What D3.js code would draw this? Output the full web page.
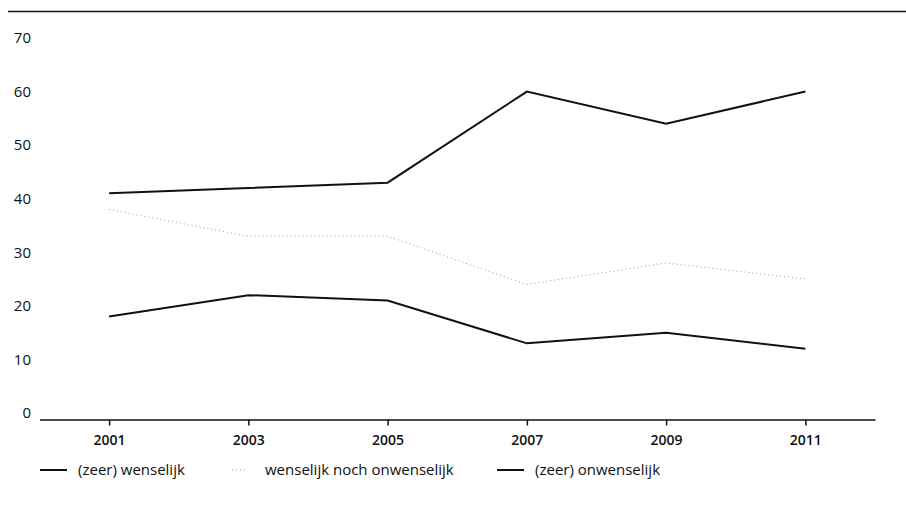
<!DOCTYPE html>
<html><head><meta charset="utf-8">
<script src="https://cdn.jsdelivr.net/npm/d3@7"></script>
<style>body{margin:0;background:#fff}svg{display:block}text{font-family:"Open Sans",Lato,sans-serif;fill:#111}</style>
</head><body><svg id="c" width="906" height="511"></svg>
<script>
const years = [2001, 2003, 2005, 2007, 2009, 2011];
const wenselijk = [41, 42, 43, 60, 54, 60];
const neutraal = [38, 33, 33, 24, 28, 25];
const onwenselijk = [18, 22, 21, 13, 15, 12];
const seriesNames = ["(zeer) wenselijk", "wenselijk noch onwenselijk", "(zeer) onwenselijk"];
const yTicks = [0, 10, 20, 30, 40, 50, 60, 70];

const svg = d3.select("#c");
const x = d3.scaleLinear().domain([2000, 2012]).range([39.5, 875]);
const y = d3.scaleLinear().domain([0, 70]).range([413, 38]);

// top rule
svg.append("line").attr("x1", 8).attr("x2", 906).attr("y1", 11.5).attr("y2", 11.5)
  .attr("stroke", "#111").attr("stroke-width", 1.5);

// y labels
svg.append("g").selectAll("text").data(yTicks).join("text")
  .attr("x", 31).attr("y", d => y(d)).attr("dy", "0.35em").attr("text-anchor", "end")
  .attr("font-size", 15).text(d => d);

// x axis
const xAxis = svg.append("g").attr("transform", "translate(0,419.5)")
  .call(d3.axisBottom(x).tickValues(years).tickFormat(d3.format("d")).tickSize(6).tickSizeOuter(0).tickPadding(10));
xAxis.select(".domain").attr("stroke", "#111").attr("stroke-width", 1.3);
xAxis.selectAll(".tick line").attr("stroke", "#111").attr("stroke-width", 1.5);
xAxis.selectAll(".tick text").attr("font-size", 14).attr("font-weight", 600)
  .attr("font-family", "'Open Sans',Lato,sans-serif").attr("fill", "#111");

const line = d3.line().x((d, i) => x(years[i])).y(d => y(d));
const styles = [
  {data: wenselijk, stroke: "#111", w: 2, dash: null},
  {data: neutraal, stroke: "#999", w: 1, dash: "1,3"},
  {data: onwenselijk, stroke: "#111", w: 2, dash: null}
];
styles.forEach(s => {
  svg.append("path").datum(s.data).attr("d", line).attr("fill", "none")
    .attr("stroke", s.stroke).attr("stroke-width", s.w).attr("stroke-dasharray", s.dash)
    .attr("stroke-linejoin", "miter");
});

// legend
const legX = [40, 232, 497];
const lg = svg.append("g");
seriesNames.forEach((n, i) => {
  const s = styles[i];
  const x0 = legX[i];
  lg.append("line").attr("x1", x0).attr("x2", x0 + (i === 1 ? 14 : 27)).attr("y1", 470).attr("y2", 470)
    .attr("stroke", s.stroke).attr("stroke-width", s.w).attr("stroke-dasharray", s.dash);
  lg.append("text").attr("x", i === 1 ? 265 : x0 + 38).attr("y", 470).attr("dy", "0.35em")
    .attr("font-size", 15).text(n);
});
</script></body></html>
